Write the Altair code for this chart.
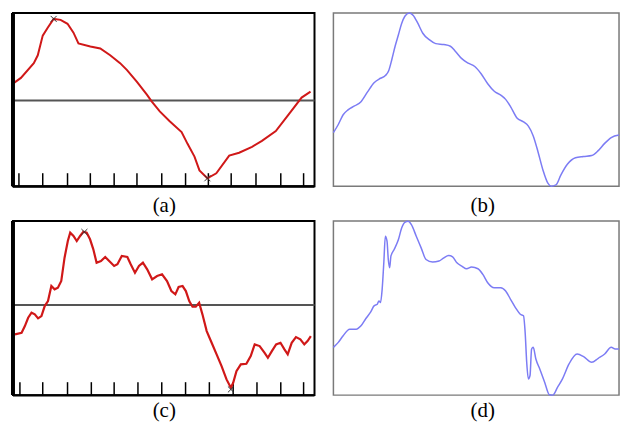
import altair as alt
import pandas as pd

# ---------------- data ----------------
a_x = [1, 8, 21, 25, 30, 35, 41, 48, 55, 61, 66, 78, 88, 98, 108, 115, 125, 135, 140,
       148, 158, 170, 176, 183, 188, 196, 205, 218, 228, 241, 251, 265, 278, 291, 300]
a_y = [18, 23, 38, 46, 66, 74, 83, 82, 78, 69, 58, 55, 53, 46, 38, 31, 19, 6, -1,
       -11, -21, -32, -44, -57, -71, -79, -74, -56, -53, -47, -41, -31, -14, 3, 9]
a_mx = [41, 196]
a_my = [83, -79]
a_ticks = [6, 30, 55, 78, 102, 125, 150, 174, 197, 220, 245, 270, 293]

b_x = [0, 5, 10, 15, 21.7, 28.3, 35, 41.7, 48.3, 53.3, 56.7, 60, 63.3, 66.7, 70, 73.3,
       77.7, 81.7, 86.7, 91.7, 98.3, 105, 113.3, 120, 125, 131.7, 138.3, 145, 151.7,
       158.3, 165, 171.7, 176.7, 181.7, 188.3, 195, 200, 205, 210, 215, 220, 223.3,
       228.3, 233.3, 240, 248.3, 256.7, 265, 271.7, 278.3, 285, 293]
b_y = [54.7, 63, 73, 78, 82, 86.3, 96.3, 105.7, 110.3, 113, 118, 129.7, 143, 154.7,
       166.3, 173.7, 177, 174.7, 166.3, 156.3, 149.7, 145.7, 144.7, 143, 138, 130.3,
       125.7, 122.3, 114.7, 104.7, 97, 93, 88.7, 81.3, 69.7, 65.7, 61.3, 51.3, 34.7,
       16.3, 3, 0, 1.3, 11.3, 22.3, 29, 30.3, 31.3, 36.3, 43.7, 49.7, 52.3]

c_x = [2, 8.7, 12, 15.3, 18.7, 22, 25.3, 28.7, 32, 35.3, 38.7, 42, 45.3, 48.7, 52, 55.3,
       57.7, 61, 64.3, 67.7, 71, 74.3, 77.7, 81, 84.3, 88.7, 93, 97, 102, 105.3, 109.7,
       115.3, 118.7, 123, 127, 131, 135.3, 140.3, 145.3, 150.3, 155.3, 159.7, 163.7, 167,
       171, 174.3, 177.7, 181, 184.3, 187.7, 191, 195.3, 200.3, 205.3, 210.3, 215.3,
       219.7, 222, 225.3, 229.7, 235.3, 239.7, 243.7, 248.7, 253.7, 257, 261, 265.3,
       269.7, 273.7, 277, 281, 285.3, 289.7, 293.7, 297, 300.3]
c_y = [-29.3, -27.7, -21, -12.7, -7.7, -9.3, -13.3, -11, -1, 4, 19, 15.7, 17.3, 24, 47.3,
       64, 72.3, 69, 64, 69, 73.3, 72.3, 65.7, 55.7, 42.3, 44, 48, 44, 39, 40.7, 49, 48,
       40.7, 32.3, 39, 42.3, 35.7, 25.7, 29, 30.7, 24, 14, 10.7, 18, 19, 14, 4, -1.7,
       -1.7, 2.3, -9.3, -26, -37.7, -49.3, -61, -74.3, -82.7, -77.7, -66, -59.3, -58.7,
       -51, -39.3, -41, -47.7, -52.7, -46, -39.3, -37.7, -44.3, -49.3, -37.7, -32, -34.3,
       -39.3, -36, -31]
c_mx = [72, 219.7]
c_my = [73, -84.3]
c_ticks = [7, 30, 55, 79, 102, 126, 150, 174, 198, 222, 246, 270, 293]

d_x = [0, 5, 10, 16.7, 23.3, 28.3, 33.3, 38.3, 41.7, 45, 46.7, 48.3, 50, 51.7, 53.3, 55,
       56.3, 57.7, 59, 62.3, 66.7, 70, 73.3, 76.7, 80, 85, 90, 95, 101.7, 108.3, 113.3,
       118.3, 122.3, 126.7, 131.7, 136.7, 141.7, 148.3, 153.3, 158.3, 165, 171.7, 176.7,
       181.7, 186.7, 191.7, 195, 196.7, 198.3, 200, 201.7, 203.3, 205, 207.7, 211.7,
       216.7, 221.7, 225, 230, 235, 241.7, 250, 256.7, 265, 271.7, 278.3, 285, 289, 293]
d_y = [48, 53, 59.7, 66.3, 66.3, 69.7, 77, 83.7, 89.7, 91.3, 94.7, 93, 106.3, 133, 159.7,
       154.7, 136.3, 128, 139.7, 146.3, 156.3, 168, 173.7, 174.7, 171.3, 159.7, 148,
       136.3, 133.7, 134.7, 138, 140.3, 139, 133, 129.7, 127, 128.7, 127, 121.3, 113,
       108, 108, 104.7, 96.3, 88, 81.3, 79.7, 63, 33, 16.3, 19.7, 46.3, 48, 36.3, 26.3,
       13, 0.3, 0, 8, 16.3, 31.3, 41.3, 38.7, 33, 37, 41.3, 48, 46.3, 46.3]

labels = ["(a)", "(b)", "(c)", "(d)"]

RED = "#d01818"
BLUE = "#7c7cf4"
XPATH = "M-1,-1L1,1M1,-1L-1,1"

WL, WR, SP = 303, 287, 19


def panel(xs, ys, xmax, ydom, w, h, color, lw, label, label_x, label_dy,
          ticks=None, mx=None, my=None, left_panel=True, anchor=False):
    df = pd.DataFrame({"x": xs, "y": ys})
    xsc = alt.Scale(domain=[0, xmax], nice=False, zero=False)
    ysc = alt.Scale(domain=ydom, nice=False, zero=False)
    one = pd.DataFrame({"k": [label]})
    layers = []
    if anchor:
        layers.append(alt.Chart(one).mark_rect(fill="transparent", strokeWidth=0)
                      .encode(x=alt.value(-4), x2=alt.value(-3),
                              y=alt.value(0), y2=alt.value(h)))
    if left_panel:
        layers.append(
            alt.Chart(pd.DataFrame({"y": [0]})).mark_rule(color="#555555", strokeWidth=2)
            .encode(y=alt.Y("y:Q", scale=ysc, axis=None))
        )
        layers.append(
            alt.Chart(pd.DataFrame({"t": ticks})).mark_rule(color="black", strokeWidth=1.5)
            .encode(x=alt.X("t:Q", scale=xsc, axis=None),
                    y=alt.value(h - 13), y2=alt.value(h))
        )
    layers.append(
        alt.Chart(df).mark_line(color=color, strokeWidth=lw, clip=False,
                                interpolate="monotone" if not left_panel else "linear")
        .encode(x=alt.X("x:Q", scale=xsc, axis=None),
                y=alt.Y("y:Q", scale=ysc, axis=None))
    )
    if mx is not None:
        layers.append(
            alt.Chart(pd.DataFrame({"x": mx, "y": my}))
            .mark_point(shape=XPATH, filled=False, size=36, color="#333333",
                        strokeWidth=1, opacity=1, clip=False)
            .encode(x=alt.X("x:Q", scale=xsc, axis=None),
                    y=alt.Y("y:Q", scale=ysc, axis=None))
        )
    if left_panel:
        layers.append(alt.Chart(one).mark_rect(color="black", strokeWidth=0)
                      .encode(x=alt.value(-2), x2=alt.value(2),
                              y=alt.value(0), y2=alt.value(h)))
        layers.append(alt.Chart(one).mark_rect(color="black", strokeWidth=0)
                      .encode(x=alt.value(0), x2=alt.value(w),
                              y=alt.value(h - 1), y2=alt.value(h + 1.5)))
    layers.append(
        alt.Chart(one).mark_text(font="Liberation Serif", fontSize=21, baseline="middle",
                                 align="center", color="black")
        .encode(text="k:N", x=alt.value(label_x), y=alt.value(h + label_dy))
    )
    view = (alt.ViewBackground(stroke="black", strokeWidth=2) if left_panel
            else alt.ViewBackground(stroke="#7a7a7a", strokeWidth=1.5))
    return alt.layer(*layers).properties(width=w, height=h, view=view)


pa = panel(a_x, a_y, 304, [-87, 89], WL, 174, RED, 2, labels[0], 152, 20,
           a_ticks, a_mx, a_my, anchor=True)
pb = panel(b_x, b_y, 293, [0, 177], WR, 174, BLUE, 1.5, labels[1], 150, 20,
           left_panel=False)
pc = panel(c_x, c_y, 304, [-90, 84], WL, 175, RED, 2.2, labels[2], 152, 16,
           c_ticks, c_mx, c_my)
pd_ = panel(d_x, d_y, 293, [0, 175], WR, 175, BLUE, 1.5, labels[3], 150, 16,
            left_panel=False)

chart = (
    alt.concat(pa, pb, pc, pd_, columns=2,
               spacing=alt.RowColnumber(row=35, column=SP), bounds="flush")
    .properties(padding={"left": 0, "top": 0, "right": 0, "bottom": 0})
    .configure(background="white", padding=0)
    .configure_view(stroke=None)
)

chart.save("out.html", embed_options={"renderer": "svg", "actions": False})
